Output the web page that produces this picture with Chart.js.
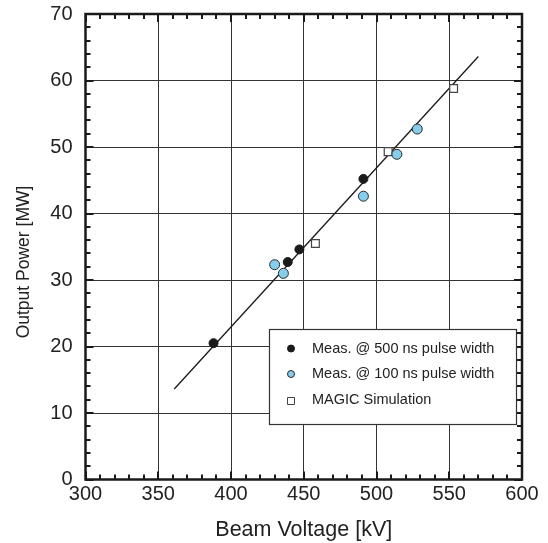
<!DOCTYPE html>
<html>
<head>
<meta charset="utf-8">
<script src="https://cdn.jsdelivr.net/npm/chart.js@4/dist/chart.umd.min.js"></script>
<style>
  html, body { margin: 0; padding: 0; background: #fff; }
  #wrap { width: 548px; height: 543px; }
</style>
</head>
<body>
<div id="wrap"><canvas id="c" width="548" height="543"></canvas></div>
<script>
// ---- data ----
const meas500V = [388, 439, 447, 491];
const meas500P = [20.5, 32.7, 34.6, 45.2];
const meas100V = [430, 436, 491, 514, 528];
const meas100P = [32.3, 31.0, 42.6, 48.9, 52.7];
const magicV = [458, 508, 553];
const magicP = [35.5, 49.3, 58.8];
const fitV = [361, 570];
const fitP = [13.6, 63.6];
const seriesLabels = ['Meas. @ 500 ns pulse width', 'Meas. @ 100 ns pulse width', 'MAGIC Simulation'];
const xTitle = 'Beam Voltage [kV]';
const yTitle = 'Output Power [MW]';

const pts = (xs, ys) => xs.map((x, i) => ({ x: x, y: ys[i] }));
const FONT = 'Liberation Sans, Arial, Helvetica, sans-serif';

const frameTicks = {
  id: 'frameTicks',
  afterDraw(chart) {
    const ctx = chart.ctx;
    const { left, right, top, bottom } = chart.chartArea;
    const xs = chart.scales.x, ys = chart.scales.y;
    ctx.save();
    ctx.strokeStyle = '#1a1a1a';
    ctx.lineWidth = 2;
    ctx.beginPath();
    for (let v = 300; v <= 600; v += 10) {
      const p = Math.round(xs.getPixelForValue(v));
      const len = v % 50 === 0 ? 8 : 5;
      ctx.moveTo(p, bottom); ctx.lineTo(p, bottom - len);
      ctx.moveTo(p, top); ctx.lineTo(p, top + len);
    }
    for (let v = 0; v <= 70; v += 2) {
      const p = Math.round(ys.getPixelForValue(v));
      const len = v % 10 === 0 ? 8 : 5;
      ctx.moveTo(left, p); ctx.lineTo(left + len, p);
      ctx.moveTo(right, p); ctx.lineTo(right - len, p);
    }
    ctx.stroke();
    ctx.lineWidth = 2.5;
    ctx.strokeRect(left, top, right - left, bottom - top);

    // y-axis title
    ctx.save();
    ctx.translate(24, 262);
    ctx.rotate(-Math.PI / 2);
    ctx.fillStyle = '#222';
    ctx.font = '17.5px ' + FONT;
    ctx.textAlign = 'center';
    ctx.textBaseline = 'middle';
    ctx.fillText(yTitle, 0, 0);
    ctx.restore();

    // legend box
    const bx = 269.5, by = 329.5, bw = 247, bh = 95;
    ctx.fillStyle = '#fff';
    ctx.fillRect(bx, by, bw, bh);
    ctx.lineWidth = 1.2;
    ctx.strokeStyle = '#333';
    ctx.strokeRect(bx, by, bw, bh);
    ctx.font = '14.5px ' + FONT;
    ctx.textBaseline = 'middle';
    ctx.textAlign = 'left';
    const rows = [348.5, 374, 400];
    for (let i = 0; i < 3; i++) {
      const ds = chart.data.datasets[i];
      const mx = 291, my = rows[i];
      ctx.beginPath();
      ctx.lineWidth = 1;
      ctx.fillStyle = ds.backgroundColor;
      ctx.strokeStyle = ds.borderColor;
      if (ds.pointStyle === 'rect') {
        ctx.rect(mx - 3.5, my - 3.5 + 1, 7, 7);
      } else {
        ctx.arc(mx, my, 3.5, 0, Math.PI * 2);
      }
      ctx.fill(); ctx.stroke();
      ctx.fillStyle = '#222';
      ctx.fillText(ds.label, 312, my);
    }
    ctx.restore();
  }
};

new Chart(document.getElementById('c'), {
  type: 'scatter',
  data: {
    datasets: [
      { label: seriesLabels[0], data: pts(meas500V, meas500P), pointStyle: 'circle', pointRadius: 4.5,
        backgroundColor: '#1a1a1a', borderColor: '#1a1a1a', borderWidth: 1 },
      { label: seriesLabels[1], data: pts(meas100V, meas100P), pointStyle: 'circle', pointRadius: 5,
        backgroundColor: '#86cdec', borderColor: '#2a2a2a', borderWidth: 1 },
      { label: seriesLabels[2], data: pts(magicV, magicP), pointStyle: 'rect', pointRadius: 5.5,
        backgroundColor: '#ffffff', borderColor: '#444', borderWidth: 1.2 },
      { label: 'fit', type: 'line', data: pts(fitV, fitP), showLine: true, pointRadius: 0,
        borderColor: '#1a1a1a', borderWidth: 1.3, fill: false }
    ]
  },
  options: {
    responsive: false,
    animation: false,
    layout: { padding: { left: 0, right: 26, top: 14, bottom: 0 } },
    plugins: { legend: { display: false }, tooltip: { enabled: false } },
    scales: {
      x: {
        type: 'linear', min: 300, max: 600,
        afterFit(s) { s.height = 63.5; s.paddingLeft = 0; s.paddingRight = 0; },
        ticks: { stepSize: 50, color: '#222', font: { family: FONT, size: 20 }, padding: 3, maxRotation: 0 },
        grid: { color: '#333', lineWidth: 1, drawTicks: false },
        border: { display: false },
        title: { display: true, text: xTitle, color: '#222', font: { family: FONT, size: 21.5 }, padding: { top: 6, bottom: 0 } }
      },
      y: {
        type: 'linear', min: 0, max: 70,
        afterFit(s) { s.width = 85.5; s.paddingTop = 0; s.paddingBottom = 0; },
        ticks: { stepSize: 10, color: '#222', font: { family: FONT, size: 20 }, padding: 13 },
        grid: { color: '#333', lineWidth: 1, drawTicks: false },
        border: { display: false },
        title: { display: false, text: yTitle }
      }
    }
  },
  plugins: [frameTicks]
});
</script>
</body>
</html>
